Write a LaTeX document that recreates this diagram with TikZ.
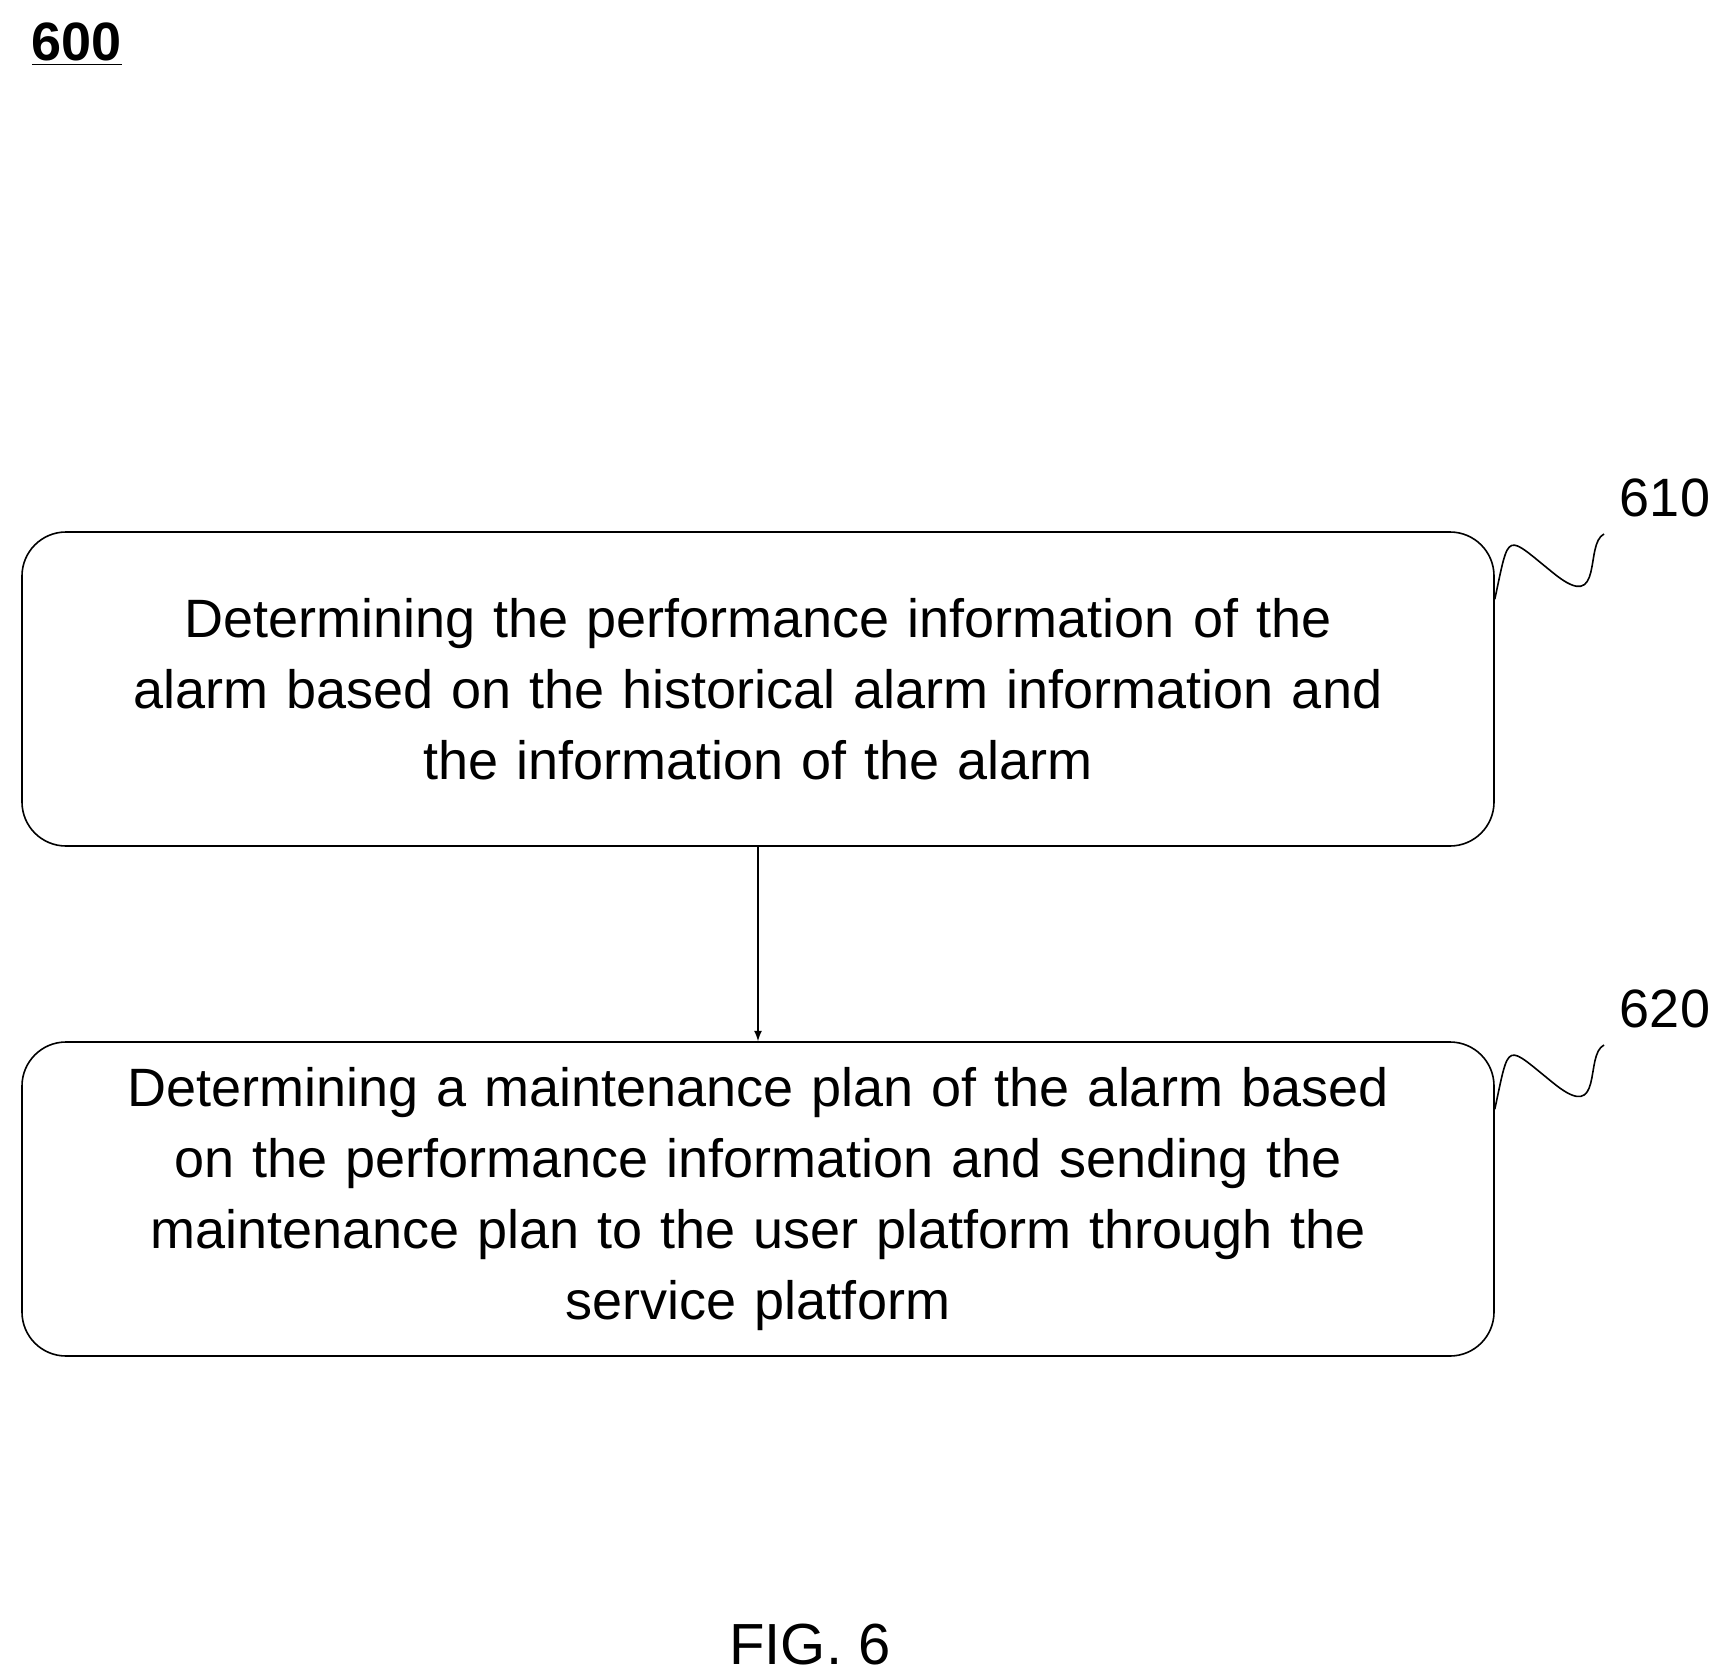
\documentclass[tikz,border=0pt]{standalone}
\usepackage{fontspec}
\setmainfont{Liberation Sans}
\usetikzlibrary{positioning}
\begin{document}
\begin{tikzpicture}[x=0.5pt,y=-0.5pt]
\tikzstyle{stepbox}=[draw, thick, rounded corners=22pt, minimum width=736pt, minimum height=157pt, align=center, text width=700pt, font=\fontsize{27}{35.5}\selectfont]
\tikzstyle{tag}=[font=\fontsize{27}{30}\selectfont]

\useasboundingbox (0,0) rectangle (1725,1675);
\node[font=\bfseries\fontsize{27}{30}\selectfont] (fig) at (77,44) {\underline{600}};

\node[stepbox] (s610) at (758,689) {Determining the performance information of the\\alarm based on the historical alarm information and\\the information of the alarm};
\node[stepbox] (s620) at (758,1199) {Determining a maintenance plan of the alarm based\\on the performance information and sending the\\maintenance plan to the user platform through the\\service platform};

\node[tag] (t610) at (1665,498) {610};
\node[tag] (t620) at (1665,1009) {620};
\coordinate (w610) at (1604,534);
\coordinate (w620) at (1604,1045);

\draw[thick] (s610.north east) ++(0,68) .. controls +(15,-70) and +(-50,-40) .. ++(60,-25) .. controls +(50,40) and +(-20,10) .. (w610);
\draw[thick] (s620.north east) ++(0,68) .. controls +(15,-70) and +(-50,-40) .. ++(60,-25) .. controls +(50,40) and +(-20,10) .. (w620);

\draw[thick,-latex] (s610) -- (s620);

\node[font=\fontsize{29}{32}\selectfont] (cap) at (810,1645) {FIG. 6};
\end{tikzpicture}
\end{document}
